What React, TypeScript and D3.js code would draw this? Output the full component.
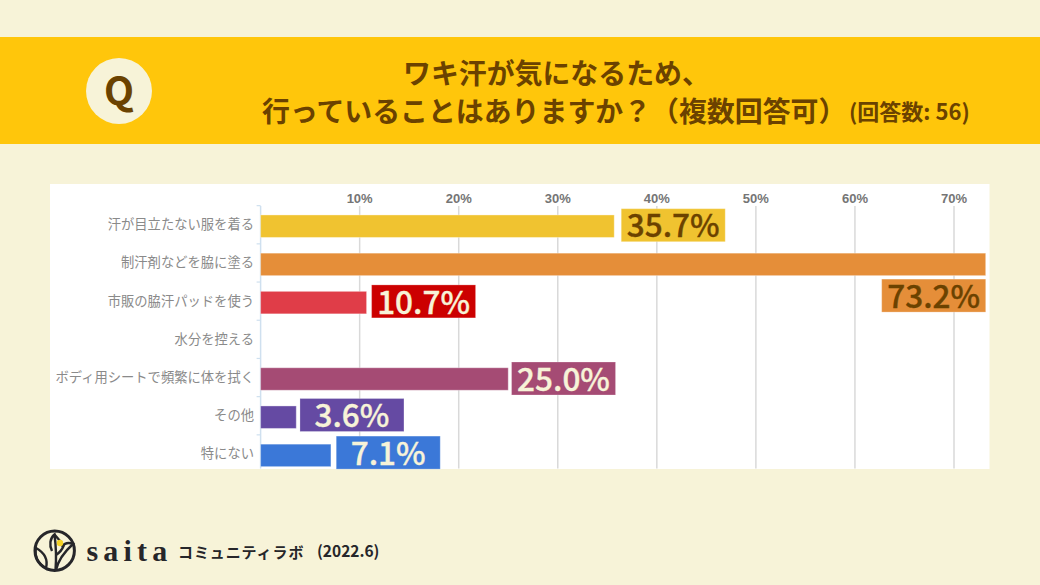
import React from "react";
import * as d3 from "d3";

const categories = ["汗が目立たない服を着る", "制汗剤などを脇に塗る", "市販の脇汗パッドを使う", "水分を控える", "ボディ用シートで頻繁に体を拭く", "その他", "特にない"];
const values = [35.7, 73.2, 10.7, 0, 25.0, 3.6, 7.1];
const valueLabels = ["35.7%", "73.2%", "10.7%", "", "25.0%", "3.6%", "7.1%"];
const ticks = [10, 20, 30, 40, 50, 60, 70];
const barColors = ["#f0c330", "#e58e39", "#e03d48", "#fff", "#a54b74", "#654aa3", "#3b78d8"];
const boxColors = ["#f0c330", "#e58e39", "#cc0000", "#fff", "#a54b74", "#654aa3", "#3b78d8"];
const textColors = ["#6b4200", "#6b4200", "#f7f3d8", "#fff", "#f7f3d8", "#f7f3d8", "#f7f3d8"];
const boxNudgeY = [-1, 0, -1.2, 0, -0.5, -2.2, -2.8];
const boxGap = [7, 0, 5, 0, 3.3, 3.7, 5.3];

const JP = "'Noto Sans CJK JP','Noto Sans',sans-serif";
const BG = "#f7f3d8";
const BROWN = "#6b4200";
const INK = "#26262a";

const x = d3.scaleLinear().domain([0, 70]).range([260.6, 954]);
const y = d3.scaleBand<number>().domain(d3.range(categories.length)).range([207.1, 474.5]).paddingInner(0.41).paddingOuter(0.205);

export default function App() {
  const bw = 22.5;
  const boxW = 104;
  const boxH = 33;
  return (
    <svg width={1040} height={585} viewBox="0 0 1040 585" style={{ position: "fixed", left: 0, top: 0 }}>
      <rect width={1040} height={585} fill={BG} />
      <rect x={0} y={37} width={1040} height={107} fill="#ffc60b" />
      <circle cx={119} cy={91} r={33} fill={BG} />
      <text x={119} y={104.5} textAnchor="middle" fontFamily={JP} fontWeight={700} fontSize={39} fill={BROWN}>Q</text>
      <text x={403} y={84} fontFamily={JP} fontWeight={700} fontSize={27.9} fill={BROWN}>ワキ汗が気になるため、</text>
      <text x={262} y={122} fontFamily={JP} fontWeight={700} fontSize={27.9} fill={BROWN}>行っていることはありますか？（複数回答可）</text>
      <text x={849} y={120} fontFamily={JP} fontWeight={700} fontSize={22} fill={BROWN}>(回答数: 56)</text>

      <rect x={50} y={184} width={939.5} height={285} fill="#fff" />
      {ticks.map((t) => (
        <g key={t}>
          <line x1={x(t)} x2={x(t)} y1={206} y2={468.5} stroke="#d9d9d9" strokeWidth={1.5} />
          <text x={x(t)} y={202.5} textAnchor="middle" fontFamily="'Liberation Sans',sans-serif" fontWeight={700} fontSize={13} fill="#757575">{t}%</text>
        </g>
      ))}
      <line x1={x(0)} x2={x(0)} y1={206} y2={468.5} stroke="#cfe0ef" strokeWidth={1.5} />
      {categories.map((c, i) => {
        const by = y(i)! + y.bandwidth() / 2 - bw / 2;
        const end = x(values[i]);
        const tickY = by - 9.3;
        const inside = values[i] > 70;
        const bx = inside ? end - boxW : end + boxGap[i];
        const cy = by + bw / 2 + boxNudgeY[i] + (inside ? 31.2 : 0);
        return (
          <g key={c}>
            <line x1={x(0) - 4} x2={x(0)} y1={tickY} y2={tickY} stroke="#cfe0ef" strokeWidth={1.2} />
            <text x={254} y={by + bw / 2 + 3} textAnchor="end" fontFamily={JP} fontSize={13.3} fill="#8a8a8a">{c}</text>
            {values[i] > 0 && (
              <g>
                <rect x={x(0)} y={by} width={end - x(0)} height={bw} fill={barColors[i]} stroke="#fff" strokeOpacity={0.35} />
                <rect x={bx} y={cy - boxH / 2} width={boxW} height={boxH} fill={boxColors[i]} stroke="#fff" strokeOpacity={0.25} />
                <text x={bx + boxW / 2} y={cy + 12.2} textAnchor="middle" fontFamily={JP} fontWeight={500} fontSize={31.5} stroke={textColors[i]} strokeWidth={0.35} fill={textColors[i]}>{valueLabels[i]}</text>
              </g>
            )}
          </g>
        );
      })}

      <g fill="none" stroke={INK} strokeWidth={2.4}>
        <circle cx={54.7} cy={550.7} r={19.7} strokeWidth={3} />
        <path d="M55.5 570 C56.5 558 56 546 54.5 534.5 C50 538 49 545 52 551" />
        <path d="M54.5 534.5 C57 538 61 541 63.5 546 C62 550 59 553 56 555" />
        <path d="M56 570 C58 561 63 553 73 544 C68 542 64 544 62 547" />
        <path d="M46 568 C48 560 45 553 36 548 C34 556 38 564 46 568" />
      </g>
      <circle cx={60} cy={543} r={3.2} fill="#f5d327" />
      <text x={86.5} y={561} fontFamily="'Liberation Serif',serif" fontWeight={700} fontSize={30} letterSpacing={5.2} fill={INK}>saita</text>
      <text x={178} y={558} fontFamily={JP} fontWeight={700} fontSize={15} letterSpacing={0.9} fill={INK}>コミュニティラボ</text>
      <text x={317} y={557} fontFamily={JP} fontWeight={700} fontSize={15.5} fill={INK}>(2022.6)</text>
    </svg>
  );
}
